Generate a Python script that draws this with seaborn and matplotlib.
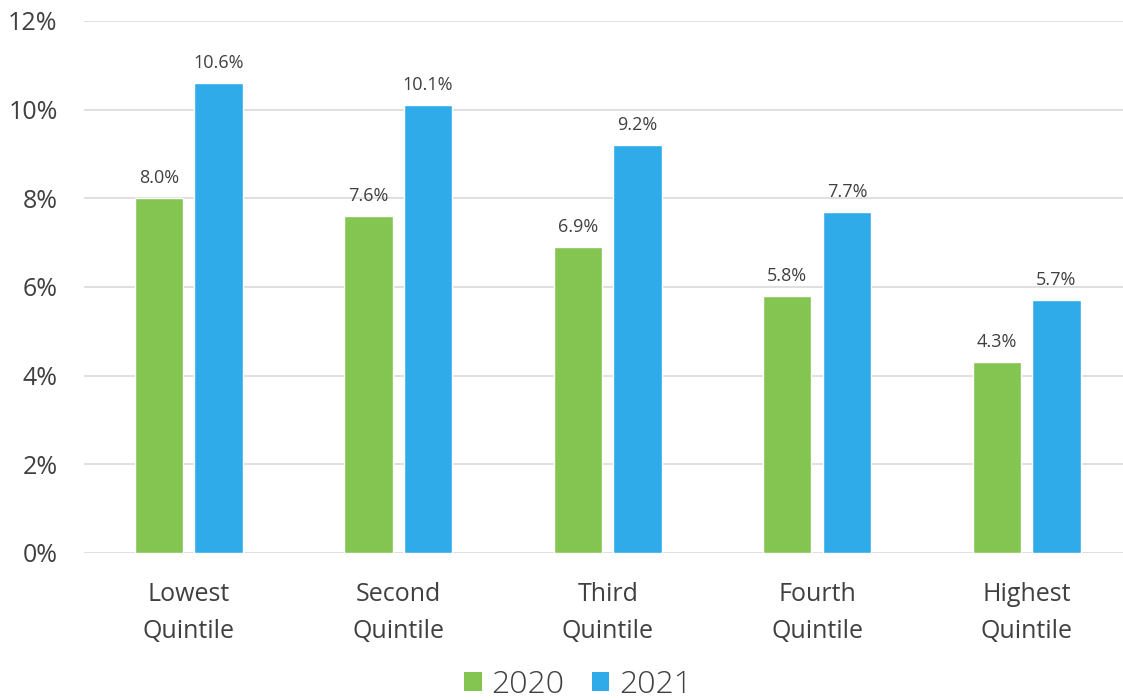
import matplotlib
matplotlib.use("Agg")
import matplotlib.pyplot as plt
import seaborn as sns
import pandas as pd
from matplotlib.patches import Patch

categories = ["Lowest\nQuintile", "Second\nQuintile", "Third\nQuintile", "Fourth\nQuintile", "Highest\nQuintile"]
series_names = ["2020", "2021"]
values_2020 = [8.0, 7.6, 6.9, 5.8, 4.3]
values_2021 = [10.6, 10.1, 9.2, 7.7, 5.7]
y_ticks = [0, 2, 4, 6, 8, 10, 12]
colors = ["#84C450", "#2FABEA"]

df = pd.DataFrame({
    "category": categories * 2,
    "year": [series_names[0]] * 5 + [series_names[1]] * 5,
    "value": values_2020 + values_2021,
})

sns.set_theme(style="white")
plt.rcParams["font.family"] = ["Open Sans", "DejaVu Sans"]
text_color = "#404040"

fig = plt.figure(figsize=(11.23, 7.0), dpi=100)
ax = fig.add_axes([84 / 1123, 1 - 553 / 700, 1 - 84 / 1123, (553 - 21) / 700])

sns.barplot(data=df, x="category", y="value", hue="year", order=categories,
            hue_order=series_names, palette=colors, width=0.57, gap=0.19,
            saturation=1, ax=ax, legend=False, errorbar=None)

for cont in ax.containers:
    ax.bar_label(cont, labels=[f"{v:.1f}%" for v in cont.datavalues], padding=8,
                 fontsize=13, color=text_color)

ax.set_ylim(0, 12)
ax.set_xlim(-0.5, 4.46)
ax.set_yticks(y_ticks)
ax.set_yticklabels([f"{t}%" for t in y_ticks], fontsize=18, color=text_color)
ax.tick_params(axis="x", labelsize=18, colors=text_color, pad=21, length=0)
ax.tick_params(axis="y", pad=19, length=0)
for lbl in ax.get_xticklabels():
    lbl.set_linespacing(1.6)
ax.yaxis.grid(True, color="#D9D9D9", linewidth=1.2)
ax.set_axisbelow(True)
for s in ax.spines.values():
    s.set_visible(False)
ax.set_xlabel("")
ax.set_ylabel("")

handles = [Patch(facecolor=c, edgecolor="none") for c in colors]
leg = fig.legend(handles, series_names, loc="center", bbox_to_anchor=(578 / 1123, 1 - 685 / 700),
                 ncol=2, frameon=False, handlelength=0.56, handleheight=0.56,
                 handletextpad=0.3, columnspacing=0.85, labelcolor=text_color,
                 prop={"family": ["Open Sans", "DejaVu Sans"], "weight": "light", "size": 23})

fig.savefig("out.png", dpi=100)
